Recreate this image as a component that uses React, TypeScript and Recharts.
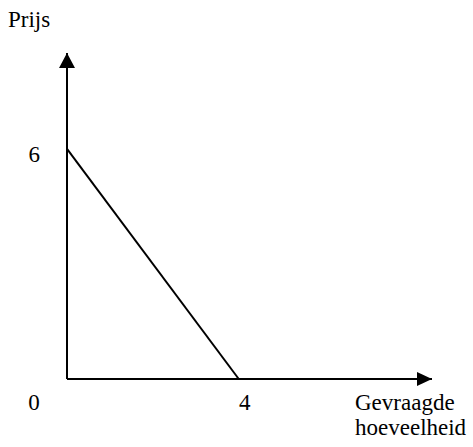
import React from 'react';
import { LineChart, Line, XAxis, YAxis, ReferenceDot } from 'recharts';

const quantities = [0, 4];
const prices = [6, 0];
const xTicks = [0, 4];
const yTicks = [6];
const xTitle = ['Gevraagde', 'hoeveelheid'];
const yTitle = 'Prijs';
const xMax = 8.5;
const yMax = 8.5;

const data = quantities.map((q, i) => ({ q, p: prices[i] }));

const TXT: React.CSSProperties = {
  fontFamily: "'Liberation Serif', 'Times New Roman', Times, serif",
  fontSize: 23,
  fill: '#000',
};

const XTick = (props: any) => {
  const { x, y, payload } = props;
  const dx = payload.value === 0 ? -33 : 6;
  return (
    <text x={x + dx} y={y + 31} textAnchor="middle" style={TXT}>
      {payload.value}
    </text>
  );
};

const YTick = (props: any) => {
  const { x, y, payload } = props;
  return (
    <text x={x - 27} y={y + 13} textAnchor="end" style={TXT}>
      {payload.value}
    </text>
  );
};

const ArrowUp = (props: any) => {
  const { cx, cy } = props;
  return <polygon points={`${cx},${cy} ${cx - 8},${cy + 15} ${cx + 8},${cy + 15}`} fill="#000" />;
};

const ArrowRight = (props: any) => {
  const { cx, cy } = props;
  return <polygon points={`${cx},${cy} ${cx - 15},${cy - 7} ${cx - 15},${cy + 7}`} fill="#000" />;
};

const XTitle = (props: any) => {
  const vb = props.viewBox || {};
  const x = vb.x + vb.width - 77;
  return (
    <text style={TXT}>
      <tspan x={x} y={vb.y + 31}>{xTitle[0]}</tspan>
      <tspan x={x} y={vb.y + 56}>{xTitle[1]}</tspan>
    </text>
  );
};

const YTitle = (props: any) => {
  const vb = props.viewBox || {};
  return (
    <text x={vb.x + 8} y={vb.y - 26} style={TXT}>
      {yTitle}
    </text>
  );
};

export default function App() {
  return (
    <div style={{ position: 'absolute', left: 0, top: 0, background: '#fff' }}>
      <LineChart
        width={473}
        height={447}
        data={data}
        margin={{ top: 53, right: 41, left: 0, bottom: 0 }}
      >
        <XAxis
          dataKey="q"
          type="number"
          domain={[0, xMax]}
          ticks={xTicks}
          interval={0}
          height={68}
          tickSize={0}
          tickMargin={0}
          tickLine={false}
          axisLine={{ stroke: '#000', strokeWidth: 2 }}
          tick={<XTick />}
          label={{ content: <XTitle /> }}
        />
        <YAxis
          type="number"
          domain={[0, yMax]}
          ticks={yTicks}
          interval={0}
          width={67}
          tickSize={0}
          tickMargin={0}
          tickLine={false}
          axisLine={{ stroke: '#000', strokeWidth: 2 }}
          tick={<YTick />}
          label={{ content: <YTitle /> }}
        />
        <Line
          dataKey="p"
          stroke="#000"
          strokeWidth={2}
          dot={false}
          activeDot={false}
          isAnimationActive={false}
          type="linear"
        />
        <ReferenceDot x={0} y={yMax} r={0} ifOverflow="visible" shape={<ArrowUp />} />
        <ReferenceDot x={xMax} y={0} r={0} ifOverflow="visible" shape={<ArrowRight />} />
      </LineChart>
    </div>
  );
}
